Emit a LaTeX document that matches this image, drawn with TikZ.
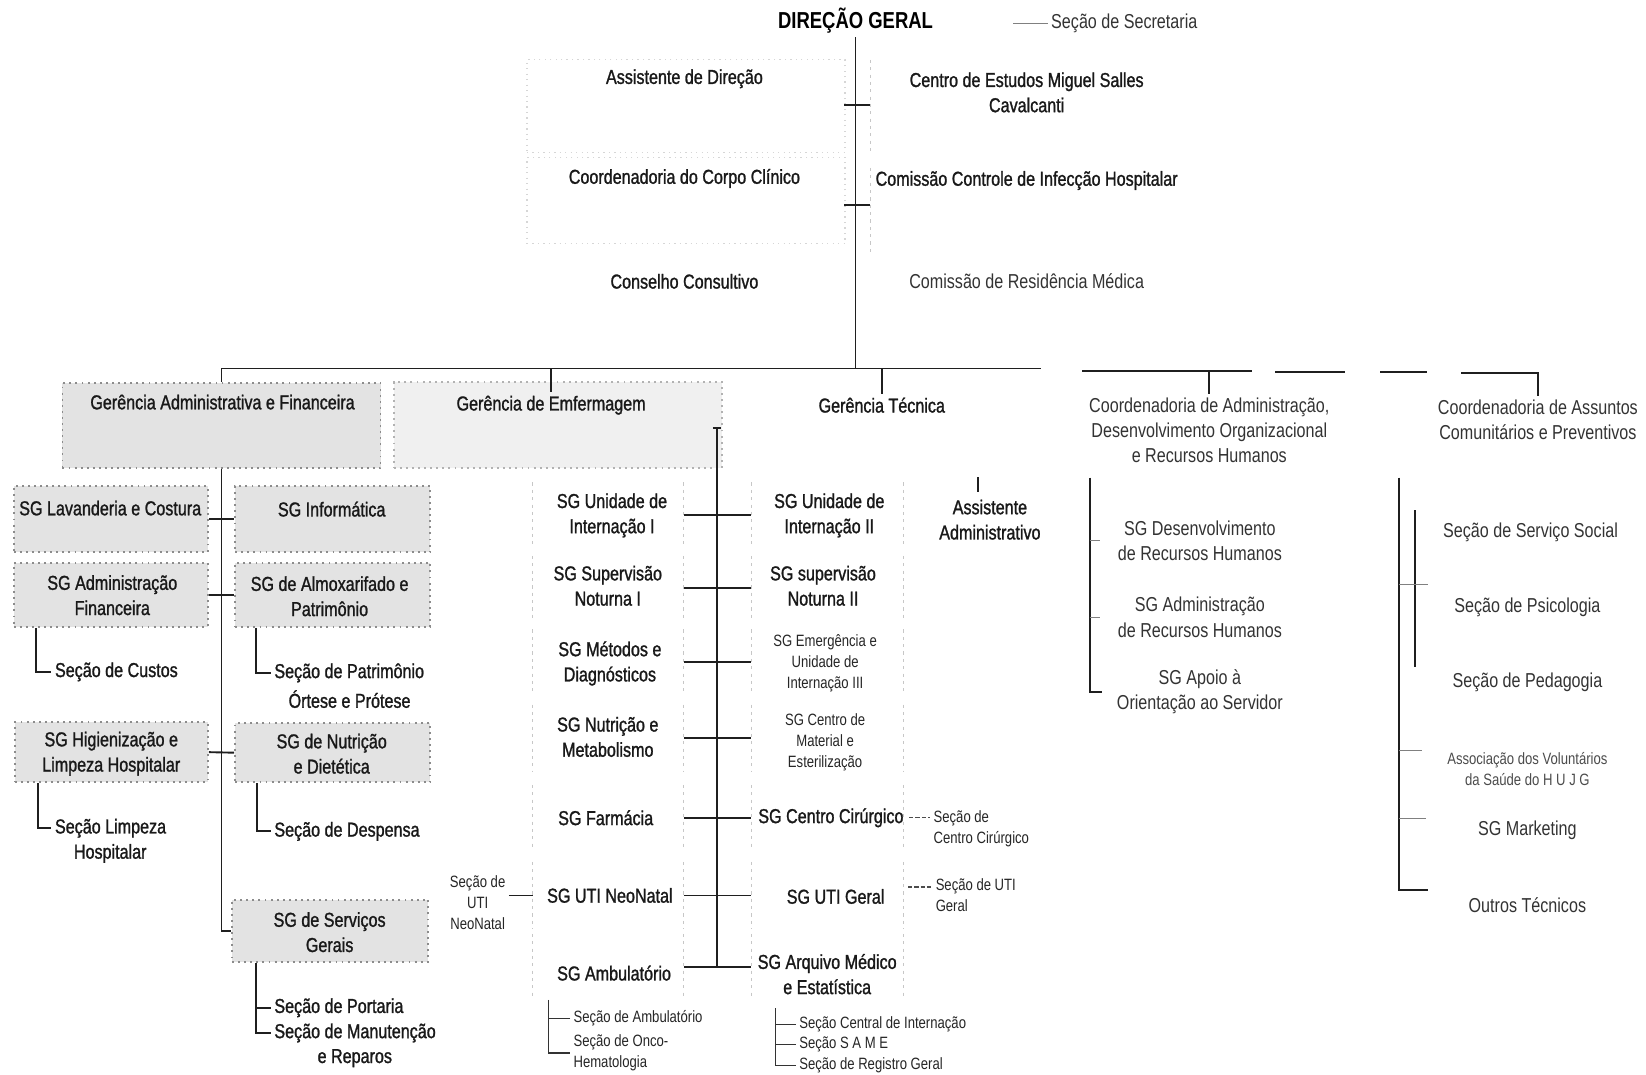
\documentclass[tikz,border=0pt]{standalone}
\usepackage{fontspec}
\setmainfont[FakeStretch=0.8]{Liberation Sans}
\newfontfamily\darkf[FakeStretch=0.8,FakeBold=1.2]{Liberation Sans}
\tikzset{
 lbl/.style={font=\darkf\fontsize{9.6}{12}\selectfont, align=center, inner sep=1.5pt, text=black!90},
 lblr/.style={font=\fontsize{9.6}{12}\selectfont, align=center, inner sep=1.5pt, text=black!80},
 lbls/.style={font=\fontsize{7.8}{10}\selectfont, align=center, inner sep=1.5pt, text=black!85},
 ln/.style={line width=0.9pt, draw=black!88},
 lnm/.style={line width=0.6pt, draw=black!80},
 lnt/.style={line width=0.5pt, draw=black!50},
 lnd/.style={line width=0.6pt, draw=black!70, dash pattern=on 2pt off 1pt},
 shbox/.style={fill=black!11, draw=black!45, line width=0.9pt, dotted, inner sep=0},
 fbox/.style={draw=black!16, line width=0.6pt, dotted, inner sep=0},
 hbox/.style={draw=none, inner sep=0},
 fside/.style={draw=black!22, line width=0.6pt, dash pattern=on 1.5pt off 2pt},
}
\begin{document}
\begin{tikzpicture}[x=0.5pt,y=-0.5pt]
\useasboundingbox (0,0) rectangle (1568,1024);
\fill[white] (0,0) rectangle (1568,1024);

% ---------- faint boxes (upper) ----------
\node[fbox, minimum width=151.5pt, minimum height=44pt] (adB) at (653.5,101) {};
\node[fbox, minimum width=151.5pt, minimum height=41pt] (cccB) at (653.5,191) {};
\draw[fside] (829,57) -- (829,145);
\draw[fside] (829,160) -- (829,240);

% ---------- top ----------
\node[font=\fontsize{11}{13}\selectfont\bfseries, inner sep=1.5pt] (dg) at (815,20) {DIREÇÃO GERAL};
\node[lblr, anchor=west] (sec) at (998,22) {Seção de Secretaria};
\coordinate (secL) at (965,22);
\draw[lnt] (secL) -- (secL -| sec.west);

\node[lbl] (ad) at (652,75) {Assistente de Direção};
\node[lbl] (ccc) at (652,170) {Coordenadoria do Corpo Clínico};
\node[lbl] (cons) at (652,268) {Conselho Consultivo};
\node[lbl] (ce) at (978,88) {Centro de Estudos Miguel Salles\\Cavalcanti};
\node[lbl] (cci) at (978,172) {Comissão Controle de Infecção Hospitalar};
\node[lblr] (crm) at (978,268) {Comissão de Residência Médica};

\coordinate (bM) at (815,351);
\draw[ln] (dg.south) -- (bM);
\coordinate (k1) at (804,100);
\coordinate (k2) at (804,195);
\draw[ln] (k1) -- ++(25,0);
\draw[ln] (k2) -- ++(25,0);

% ---------- level 2 heads ----------
\node[shbox, minimum width=151.5pt, minimum height=40.5pt] (gafB) at (211,405.5) {};
\node[shbox, fill=black!6, draw=black!30, minimum width=156.5pt, minimum height=41pt] (gefB) at (531.5,405) {};
\node[lbl] (gaf) at (212,383) {Gerência Administrativa e Financeira};
\node[lbl] (gef) at (525,386) {Gerência de Emfermagem};
\node[lbl] (gt) at (840,386) {Gerência Técnica};
\node[lblr] (cadm) at (1152,410) {Coordenadoria de Administração,\\Desenvolvimento Organizacional\\e Recursos Humanos};
\node[lblr] (cass) at (1465,400) {Coordenadoria de Assuntos\\Comunitários e Preventivos};

% bus
\coordinate (bL) at (211,351);
\coordinate (b1) at (992,351);
\coordinate (b2) at (1031,353);
\coordinate (b3) at (1193,353);
\coordinate (b4) at (1215,354);
\coordinate (b5) at (1281,354);
\coordinate (b6) at (1315,354);
\coordinate (b7) at (1359,354);
\coordinate (b8) at (1392,355);
\coordinate (b9) at (1465,355);
\draw[ln] (gafB.north) -- (bL) -- (b1);
\draw[ln] (b2) -- (b3);
\draw[ln] (b4) -- (b5);
\draw[ln] (b6) -- (b7);
\draw[ln] (b8) -- (b9) -- (cass.north);
\draw[ln] (gef.north |- bL) -- (gef.north);
\draw[ln] (gt.north |- bL) -- (gt.north);
\draw[ln] (cadm.north |- b2) -- (cadm.north);

% ---------- Gerência Administrativa column ----------
\node[shbox, minimum width=92.5pt, minimum height=31.5pt] (lavB) at (105.5,494.5) {};
\node[shbox, minimum width=93pt, minimum height=31.5pt] (infB) at (317,494.5) {};
\node[shbox, minimum width=92.5pt, minimum height=30.5pt] (afB) at (105.5,566.5) {};
\node[shbox, minimum width=93pt, minimum height=30.5pt] (almB) at (317,566.5) {};
\node[shbox, minimum width=92pt, minimum height=28.5pt] (higB) at (106,716.5) {};
\node[shbox, minimum width=93pt, minimum height=28pt] (nutB) at (317,717) {};
\node[shbox, minimum width=93.5pt, minimum height=29.5pt] (sgB) at (314.5,886.5) {};

\node[lbl] (lav) at (105,484) {SG Lavanderia e Costura};
\node[lbl] (inf) at (316,485) {SG Informática};
\node[lbl] (af) at (107,567) {SG Administração\\Financeira};
\node[lbl] (alm) at (314,568) {SG de Almoxarifado e\\Patrimônio};
\node[lbl, anchor=west] (cus) at (49,640) {Seção de Custos};
\node[lbl, anchor=west] (pat1) at (258,641) {Seção de Patrimônio};
\node[lbl] (pat2) at (333,666) {Órtese e Prótese};
\node[lbl] (hig) at (106,718) {SG Higienização e\\Limpeza Hospitalar};
\node[lbl] (nut) at (316,718) {SG de Nutrição\\e Dietética};
\node[lbl, anchor=west] (lim1) at (49,789) {Seção Limpeza};
\node[lbl] (lim2) at (105,813) {Hospitalar};
\node[lbl, anchor=west] (desp) at (258,792) {Seção de Despensa};
\node[lbl] (sgt) at (314,888) {SG de Serviços\\Gerais};
\node[lbl, anchor=west] (port) at (258,960) {Seção de Portaria};
\node[lbl, anchor=west] (man) at (258,984) {Seção de Manutenção};
\node[lbl] (rep) at (338,1008) {e Reparos};

\draw[ln] (gafB.south) -- (gafB.south |- sgB.west) -- (sgB.west);
\draw[ln] (lavB.east) -- (infB.west);
\draw[ln] (afB.east) -- (almB.west);
\draw[ln] (higB.east) -- (nutB.west);
\draw[ln] ([xshift=11pt]afB.south west) |- (cus.west);
\draw[ln] ([xshift=10.5pt]almB.south west) |- (pat1.west);
\draw[ln] ([xshift=11.5pt]higB.south west) |- (lim1.west);
\draw[ln] ([xshift=11pt]nutB.south west) |- (desp.west);
\coordinate (sgsp) at ([xshift=12pt]sgB.south west);
\draw[ln] (sgsp) |- (man.west);
\draw[ln] (port.west) -- (port.west -| sgsp);

% ---------- Enfermagem / Técnica ----------
\foreach \n/\y/\h in {u1B/491/31, s1B/560/30, m1B/631/31, n1B/703/31.5, f1B/779/31, unB/853/31.5, amB/921/31}{
  \node[hbox, minimum width=71.5pt, minimum height=\h pt] (\n) at (579.5,\y) {};
  \draw[fside] (\n.north west) -- (\n.south west) (\n.north east) -- (\n.south east);
}
\foreach \n/\y/\h in {u2B/491/31, s2B/560/30, emB/631/31, cmB/703/31.5, ccB/779/31, ugB/853/31.5, arB/921/31}{
  \node[hbox, minimum width=72pt, minimum height=\h pt] (\n) at (788,\y) {};
  \draw[fside] (\n.north west) -- (\n.south west) (\n.north east) -- (\n.south east);
}

\coordinate (spT) at (683,408);
\coordinate (spB) at (683,921);
\draw[ln] (spT) -- (spB);
\draw[ln] ([xshift=-2pt]spT) -- ([xshift=2pt]spT);
\draw[ln] (u1B.east) -- (u2B.west);
\draw[ln] (s1B.east) -- (s2B.west);
\draw[ln] (m1B.east) -- (emB.west);
\draw[ln] (n1B.east) -- (cmB.west);
\draw[ln] (f1B.east) -- (ccB.west);
\draw[ln] (unB.east) -- (ugB.west);
\draw[ln] (amB.east) -- (arB.west);

\node[lbl] (u1) at (583,491) {SG Unidade de\\Internação I};
\node[lbl] (s1) at (579,558) {SG Supervisão\\Noturna I};
\node[lbl] (m1) at (581,632) {SG Métodos e\\Diagnósticos};
\node[lbl] (n1) at (579,702) {SG Nutrição e\\Metabolismo};
\node[lbl] (f1) at (577,779) {SG Farmácia};
\node[lbl] (un) at (581,853) {SG UTI NeoNatal};
\node[lbl] (am) at (585,927) {SG Ambulatório};
\node[lbl] (u2) at (790,491) {SG Unidade de\\Internação II};
\node[lbl] (s2) at (784,558) {SG supervisão\\Noturna II};
\node[lbls] (em) at (786,632) {SG Emergência e\\Unidade de\\Internação III};
\node[lbls] (cm) at (786,707) {SG Centro de\\Material e\\Esterilização};
\node[lbl, anchor=west] (cc) at (719,779) {SG Centro Cirúrgico};
\node[lbl] (ug) at (796,854) {SG UTI Geral};
\node[lbl] (ar) at (788,928) {SG Arquivo Médico\\e Estatística};
\node[lbl] (aa) at (943,495) {Assistente\\Administrativo};
\draw[ln] ([xshift=-5.5pt,yshift=2pt]aa.north) -- ++(0,-14);

\node[lbls, align=left, anchor=north west] (scc) at (886,769) {Seção de\\Centro Cirúrgico};
\draw[lnd] ([xshift=1pt]cc.east) -- (cc.east -| scc.west);
\node[lbls, align=left, anchor=north west] (sug) at (888,834) {Seção de UTI\\Geral};
\coordinate (sugL) at (865,845);
\draw[lnd] (sugL) -- (sugL -| sug.west);
\node[lbls] (snn) at (455,860) {Seção de\\UTI\\NeoNatal};
\draw[ln] (snn.east |- unB.west) -- (unB.west);

\coordinate (amsp) at ([xshift=7.5pt]amB.south west);
\node[lbls, anchor=west] (sam) at (543,970) {Seção de Ambulatório};
\node[lbls, anchor=west, align=left] (onc) at (543,1003) {Seção de Onco-\\Hematologia};
\draw[lnm] (amsp) |- (onc.west);
\draw[lnm] (sam.west) -- (sam.west -| amsp);

\coordinate (arsp) at ([xshift=11.5pt,yshift=-4pt]arB.south west);
\node[lbls, anchor=west] (sci) at (758,976) {Seção Central de Internação};
\node[lbls, anchor=west] (ssm) at (758,995) {Seção S A M E};
\node[lbls, anchor=west] (srg) at (758,1015) {Seção de Registro Geral};
\draw[lnm] (arsp) |- (srg.west);
\draw[lnm] (sci.west) -- (sci.west -| arsp);
\draw[lnm] (ssm.west) -- (ssm.west -| arsp);

% ---------- Coordenadoria de Administração ----------
\node[lblr] (dev) at (1143,515) {SG Desenvolvimento\\de Recursos Humanos};
\node[lblr] (arh) at (1143,588) {SG Administração\\de Recursos Humanos};
\node[lblr] (apo) at (1143,659) {SG Apoio à\\Orientação ao Servidor};
\coordinate (caT) at (1038,455);
\draw[ln] (caT) -- (caT |- apo.west) -- ++(12,0);
\draw[lnt] (caT |- dev.west) -- ++(10,0);
\draw[lnt] (caT |- arh.west) -- ++(10,0);

% ---------- Coordenadoria de Assuntos ----------
\node[lblr] (ss) at (1458,507) {Seção de Serviço Social};
\node[lblr] (psi) at (1455,579) {Seção de Psicologia};
\node[lblr] (ped) at (1455,650) {Seção de Pedagogia};
\node[lbls, text=black!70] (asv) at (1455,733) {Associação dos Voluntários\\da Saúde do H U J G};
\node[lblr] (mkt) at (1455,791) {SG Marketing};
\node[lblr] (ot) at (1455,862) {Outros Técnicos};
\coordinate (csT) at (1333,455);
\coordinate (csB) at (1333,848);
\draw[ln] (csT) -- (csB) -- ++(27,0);
\coordinate (ciT) at (1348,486);
\coordinate (ciB) at (1348,635);
\draw[ln] (ciT) -- (ciB);
\draw[lnt] (csT) ++(0,102) -- ++(27,0);
\draw[lnt] (csT) ++(0,260) -- ++(22,0);
\draw[lnt] (csT) ++(0,325) -- ++(25,0);
\end{tikzpicture}
\end{document}
